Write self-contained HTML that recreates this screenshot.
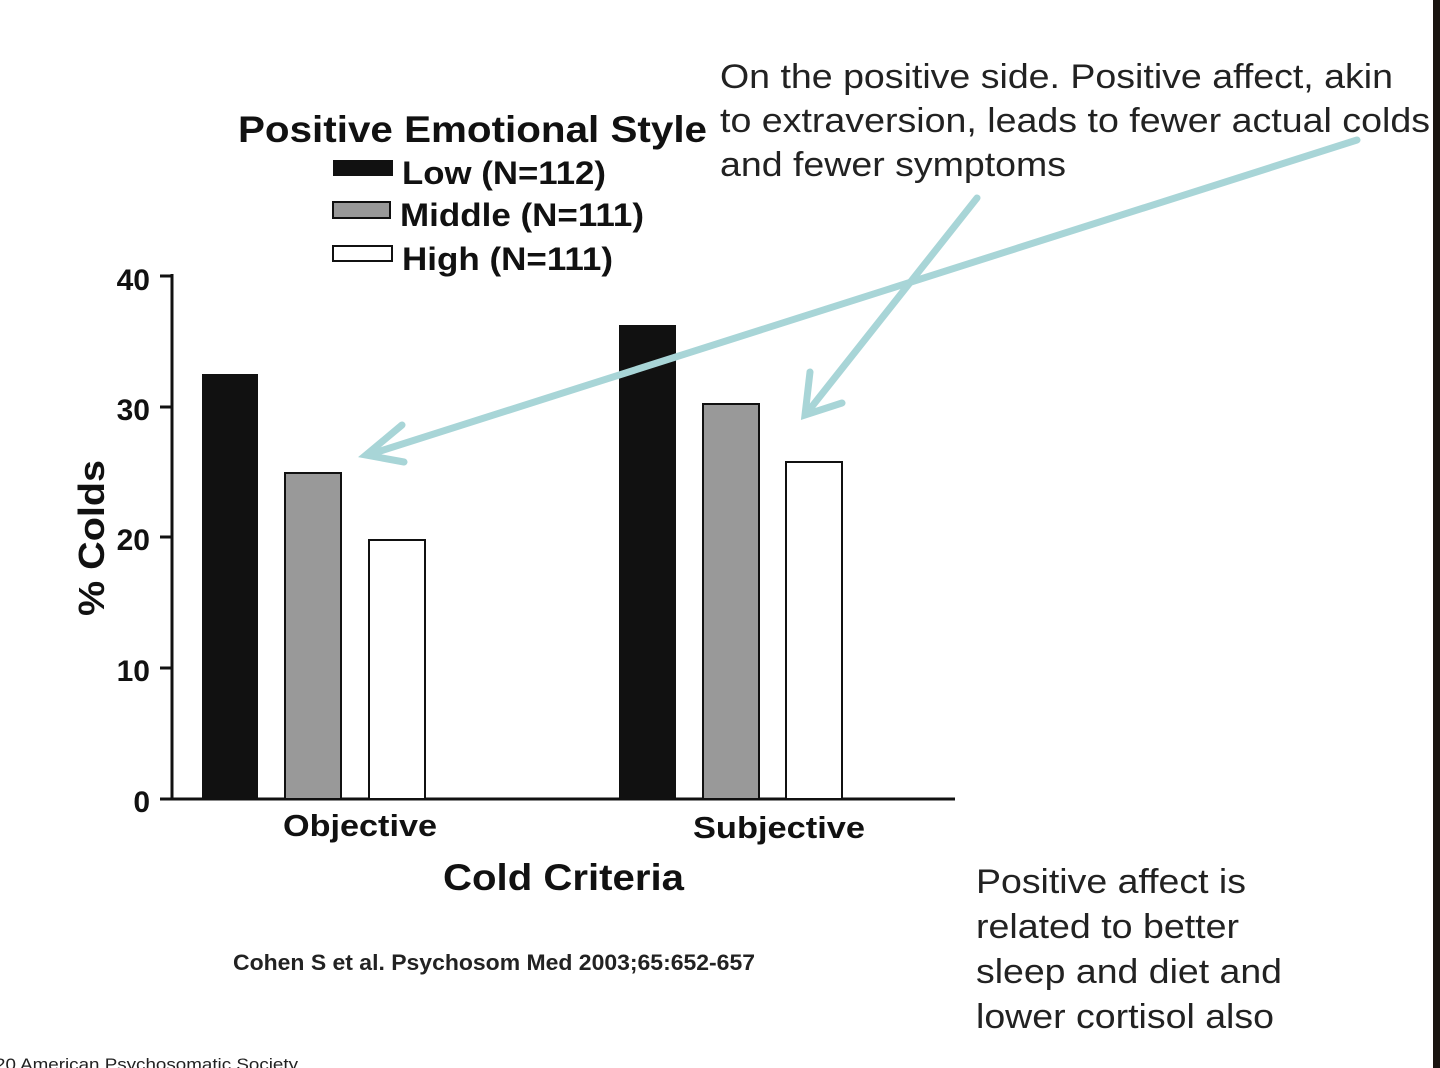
<!DOCTYPE html>
<html><head><style>body{margin:0;background:#fff}svg{display:block}</style></head>
<body>
<svg width="1440" height="1068" xmlns="http://www.w3.org/2000/svg" font-family="Liberation Sans, sans-serif">
<rect width="1440" height="1068" fill="#fff"/>
<rect x="1433" y="0" width="7" height="1068" fill="#1a1410"/>
<text x="238" y="142" font-size="37" font-weight="bold" fill="#111" textLength="469" lengthAdjust="spacingAndGlyphs">Positive Emotional Style</text>
<rect x="333" y="160" width="60" height="16" fill="#111"/>
<rect x="333" y="202" width="57" height="16" fill="#999" stroke="#111" stroke-width="2"/>
<rect x="333" y="246" width="59" height="15" fill="#fff" stroke="#111" stroke-width="2"/>
<text x="402" y="184" font-size="32" font-weight="bold" fill="#111" textLength="204" lengthAdjust="spacingAndGlyphs">Low (N=112)</text>
<text x="400" y="226" font-size="32" font-weight="bold" fill="#111" textLength="244" lengthAdjust="spacingAndGlyphs">Middle (N=111)</text>
<text x="402" y="270" font-size="32" font-weight="bold" fill="#111" textLength="211" lengthAdjust="spacingAndGlyphs">High (N=111)</text>
<text x="720" y="88" font-size="34" fill="#222" textLength="673" lengthAdjust="spacingAndGlyphs">On the positive side. Positive affect, akin</text>
<text x="720" y="132" font-size="34" fill="#222" textLength="710" lengthAdjust="spacingAndGlyphs">to extraversion, leads to fewer actual colds</text>
<text x="720" y="176" font-size="34" fill="#222" textLength="346" lengthAdjust="spacingAndGlyphs">and fewer symptoms</text>
<g stroke="#111" stroke-width="3">
<line x1="172" y1="274" x2="172" y2="800"/>
<line x1="160" y1="799" x2="955" y2="799"/>
<line x1="160" y1="276" x2="172" y2="276"/>
<line x1="160" y1="407" x2="172" y2="407"/>
<line x1="160" y1="537" x2="172" y2="537"/>
<line x1="160" y1="668" x2="172" y2="668"/>
</g>
<g font-size="30" font-weight="bold" fill="#111" text-anchor="end">
<text x="150" y="290">40</text><text x="150" y="420">30</text><text x="150" y="550">20</text><text x="150" y="681">10</text><text x="150" y="812">0</text>
</g>
<text transform="translate(104,538) rotate(-90)" font-size="36" font-weight="bold" fill="#111" text-anchor="middle" textLength="156" lengthAdjust="spacingAndGlyphs">% Colds</text>
<rect x="202" y="374" width="56" height="425" fill="#111"/>
<rect x="285" y="473" width="56" height="326" fill="#999" stroke="#111" stroke-width="2"/>
<rect x="369" y="540" width="56" height="259" fill="#fff" stroke="#111" stroke-width="2"/>
<rect x="619" y="325" width="57" height="474" fill="#111"/>
<rect x="703" y="404" width="56" height="395" fill="#999" stroke="#111" stroke-width="2"/>
<rect x="786" y="462" width="56" height="337" fill="#fff" stroke="#111" stroke-width="2"/>
<text x="283" y="836" font-size="31" font-weight="bold" fill="#111" textLength="154" lengthAdjust="spacingAndGlyphs">Objective</text>
<text x="693" y="838" font-size="31" font-weight="bold" fill="#111" textLength="172" lengthAdjust="spacingAndGlyphs">Subjective</text>
<text x="443" y="890" font-size="37" font-weight="bold" fill="#111" textLength="241" lengthAdjust="spacingAndGlyphs">Cold Criteria</text>
<text x="233" y="970" font-size="22" font-weight="bold" fill="#222" textLength="522" lengthAdjust="spacingAndGlyphs">Cohen S et al. Psychosom Med 2003;65:652-657</text>
<text x="-5" y="1070" font-size="17" fill="#222" textLength="303" lengthAdjust="spacingAndGlyphs">20 American Psychosomatic Society</text>
<g font-size="34" fill="#222">
<text x="976" y="893" textLength="270" lengthAdjust="spacingAndGlyphs">Positive affect is</text>
<text x="976" y="938" textLength="263" lengthAdjust="spacingAndGlyphs">related to better</text>
<text x="976" y="983" textLength="306" lengthAdjust="spacingAndGlyphs">sleep and diet and</text>
<text x="976" y="1028" textLength="298" lengthAdjust="spacingAndGlyphs">lower cortisol also</text>
</g>
<g stroke="#a8d5d7" stroke-width="7" fill="none" stroke-linecap="round">
<line x1="1357" y1="140" x2="368" y2="455"/>
<polyline points="402,425 366,455 404,462"/>
<line x1="977" y1="198" x2="806" y2="414"/>
<polyline points="810,372 805,415 842,403"/>
</g>
</svg>
</body></html>
